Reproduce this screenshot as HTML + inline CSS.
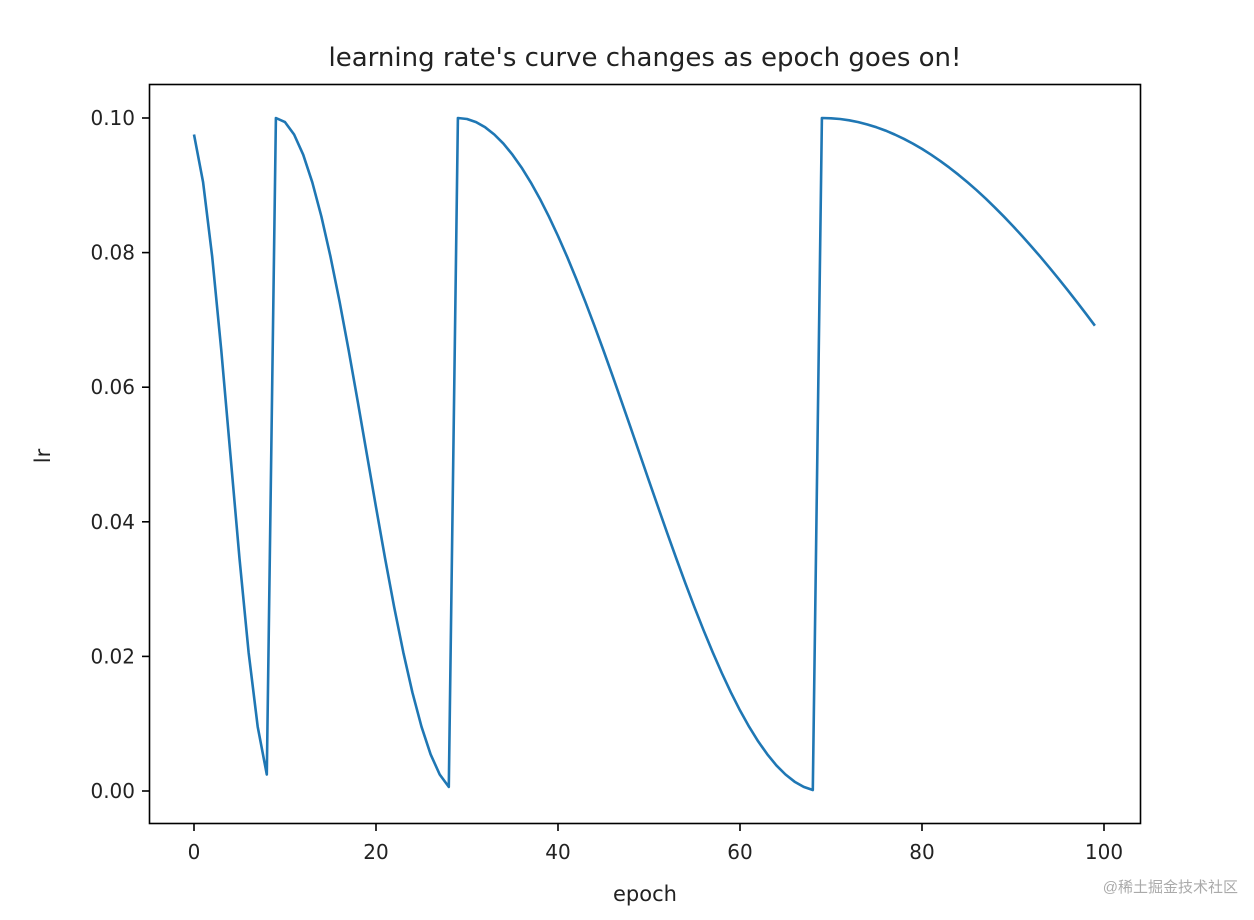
<!DOCTYPE html>
<html><head><meta charset="utf-8"><style>
html,body{margin:0;padding:0;background:#fff;width:1254px;height:920px;overflow:hidden}
svg text{font-family:"DejaVu Sans","Liberation Sans",sans-serif;fill:#222}
</style></head><body>
<svg id="s" width="1254" height="920" xmlns="http://www.w3.org/2000/svg">
<rect x="0" y="0" width="1254" height="920" fill="#fff"/>
<text x="645" y="66" font-size="26" text-anchor="middle">learning rate's curve changes as epoch goes on!</text>
<polyline id="pl" fill="none" stroke="#1f77b4" stroke-width="2.6" stroke-linejoin="round" points=""/>
<rect x="149.5" y="84.5" width="991" height="739" fill="none" stroke="#000" stroke-width="1.6"/>
<g id="ticks" stroke="#000" stroke-width="1.6"></g>
<g id="labels" font-size="20"></g>
<text x="645" y="901" font-size="21" text-anchor="middle">epoch</text>
<text transform="translate(50,456) rotate(-90)" font-size="21" text-anchor="middle">lr</text>
<text x="1238" y="892" font-size="15" text-anchor="end" style="fill:#aaa;font-family:'Liberation Sans','Noto Sans CJK SC',sans-serif">@稀土掘金技术社区</text>
</svg>
<script>
var X=function(e){return 194+e*9.1},Y=function(v){return 791-v*6730};
var pts=[],Ti=10,Tc=0;
for(var e=0;e<100;e++){Tc++;if(Tc>=Ti){Tc=0;Ti*=2;}
var lr=0.05*(1+Math.cos(Math.PI*Tc/Ti));pts.push(X(e).toFixed(1)+","+Y(lr).toFixed(1));}
document.getElementById('pl').setAttribute('points',pts.join(' '));
var t='',l='';
for(var i=0;i<=100;i+=20){var x=X(i);t+='<line x1="'+x+'" y1="824" x2="'+x+'" y2="831"/>';l+='<text x="'+x+'" y="859" text-anchor="middle">'+i+'</text>';}
for(var j=0;j<=5;j++){var v=j*0.02,y=Y(v);t+='<line x1="142" y1="'+y+'" x2="149" y2="'+y+'"/>';l+='<text x="135" y="'+(y+7)+'" text-anchor="end">'+v.toFixed(2)+'</text>';}
document.getElementById('ticks').innerHTML=t;document.getElementById('labels').innerHTML=l;
</script>
</body></html>
